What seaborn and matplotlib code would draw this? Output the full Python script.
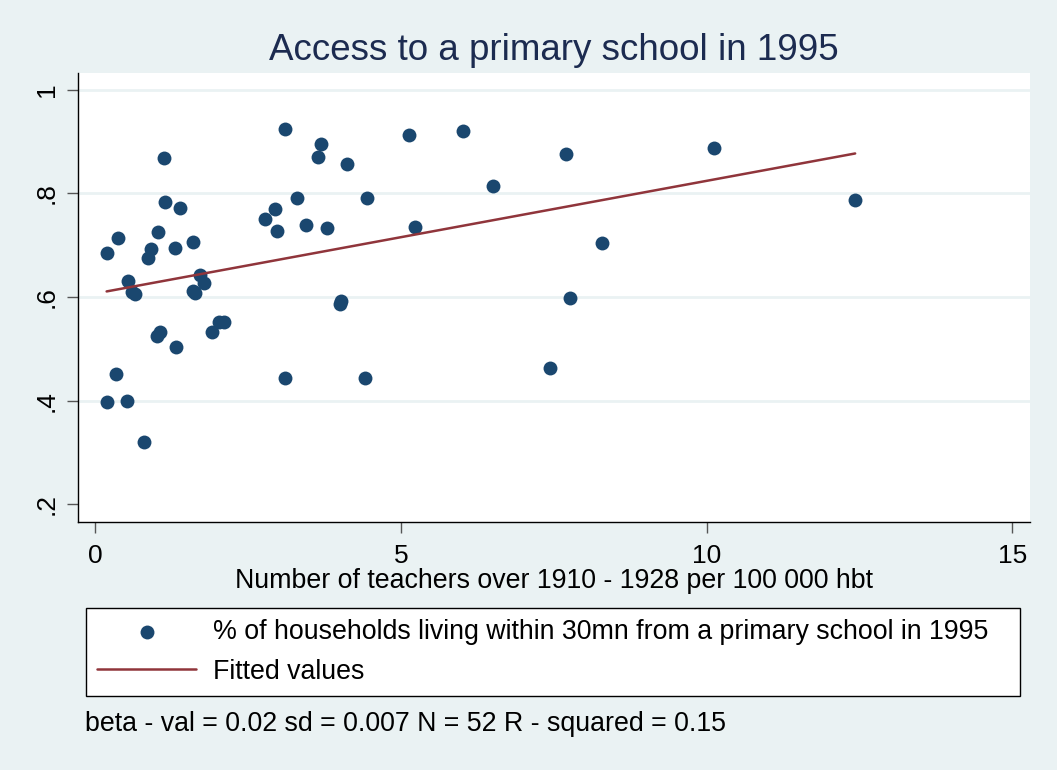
import matplotlib
matplotlib.use('Agg')
import matplotlib.pyplot as plt
import numpy as np
import pandas as pd
import seaborn as sns

teachers = [0.19, 0.38, 0.20, 0.34, 0.52, 0.54, 0.60, 0.65, 0.80, 0.86,
            0.92, 1.03, 1.13, 1.15, 1.39, 1.31, 1.60, 1.71, 1.78, 1.60,
            1.64, 1.06, 1.02, 1.33, 1.92, 2.02, 2.11,
            3.11, 3.69, 3.65, 4.12, 5.14, 3.31, 4.45, 2.95, 2.78, 2.98,
            3.45, 3.80, 5.23, 4.02, 4.01, 3.11, 4.42,
            6.01, 6.50, 7.70, 8.29, 7.77, 7.44, 10.12, 12.43]
access = [0.685, 0.714, 0.398, 0.452, 0.399, 0.631, 0.609, 0.605, 0.321, 0.676,
          0.693, 0.726, 0.869, 0.784, 0.771, 0.695, 0.706, 0.643, 0.627, 0.612,
          0.608, 0.533, 0.525, 0.504, 0.533, 0.551, 0.551,
          0.924, 0.896, 0.870, 0.857, 0.913, 0.791, 0.792, 0.770, 0.750, 0.728,
          0.739, 0.733, 0.736, 0.593, 0.586, 0.443, 0.443,
          0.921, 0.815, 0.876, 0.704, 0.599, 0.463, 0.887, 0.788]
yticks = [0.2, 0.4, 0.6, 0.8, 1.0]
ytick_labels = ['.2', '.4', '.6', '.8', '1']
xticks = [0, 5, 10, 15]

df = pd.DataFrame({'teachers': teachers, 'access': access})

bg = '#EAF2F3'
navy = '#1A476F'
maroon = '#90353B'

sns.set_style('white')
plt.rcParams['font.family'] = ['Liberation Sans', 'DejaVu Sans']
plt.rcParams['text.color'] = 'black'

fig = plt.figure(figsize=(10.57, 7.70), dpi=100, facecolor=bg)
ax = fig.add_axes([0.0738, 0.3221, 0.9007, 0.5835])
ax.set_facecolor('white')

sns.scatterplot(data=df, x='teachers', y='access', ax=ax, color=navy, s=100,
                linewidth=0, label='% of households living within 30mn from a primary school in 1995',
                zorder=3)
sns.regplot(data=df, x='teachers', y='access', ax=ax, scatter=False, ci=None,
            color=maroon, line_kws={'linewidth': 1.8, 'zorder': 4},
            label='Fitted values')

ax.set_xlim(-0.278, 15.29)
ax.set_ylim(0.166, 1.033)
ax.set_xticks(xticks)
ax.set_yticks(yticks)
ax.set_yticklabels(ytick_labels)

ax.grid(axis='y', color=bg, linewidth=2)
ax.yaxis.get_gridlines()[0].set_visible(False)
ax.set_axisbelow(True)

for side in ['top', 'right']:
    ax.spines[side].set_visible(False)
for side in ['left', 'bottom']:
    ax.spines[side].set_color('black')
    ax.spines[side].set_linewidth(1)

ax.tick_params(axis='both', direction='out', length=8, width=1, color='#555555',
               labelsize=19, labelcolor='black', bottom=True, left=True)
ax.tick_params(axis='y', labelrotation=90, pad=6)
ax.tick_params(axis='x', pad=8)
for lab in ax.get_yticklabels():
    lab.set_va('center')

ax.set_xlabel('Number of teachers over 1910 - 1928 per 100 000 hbt', fontsize=19.3,
              labelpad=0, color='black')
ax.set_ylabel('')
ax.set_title('Access to a primary school in 1995', fontsize=26.5, color='#1C2B50', pad=9)

leg = ax.legend(loc='upper left', bbox_to_anchor=(0.0814, 0.0974, 0.8836, 0.113),
                bbox_transform=fig.transFigure, mode='expand', borderaxespad=0,
                fontsize=19.3, frameon=True, fancybox=False, framealpha=1,
                handlelength=3.7, handletextpad=0.6, labelspacing=0.5, borderpad=0.42)
leg.get_frame().set_edgecolor('black')
leg.get_frame().set_linewidth(1)

fig.text(85 / 1057, 1 - 724 / 770, 'beta - val = 0.02 sd = 0.007 N = 52 R - squared = 0.15',
         fontsize=19.3, va='center', ha='left')

fig.savefig('out.png', dpi=100, facecolor=bg)
